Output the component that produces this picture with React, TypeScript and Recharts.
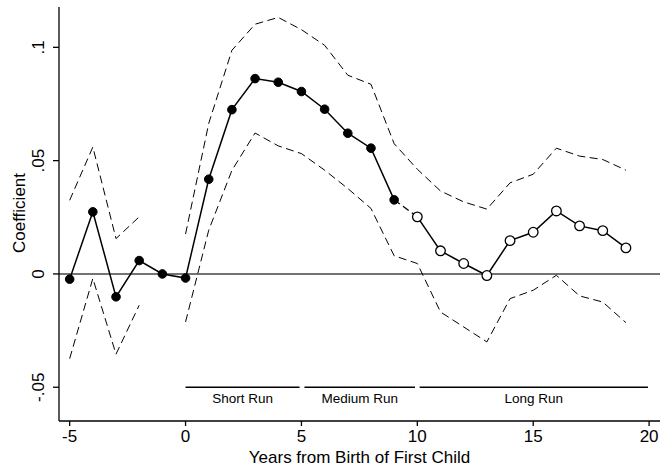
import {
  ComposedChart,
  Line,
  XAxis,
  YAxis,
  ReferenceLine,
  ReferenceArea,
  Label,
} from 'recharts'

const years = [-5, -4, -3, -2, -1, 0, 1, 2, 3, 4, 5, 6, 7, 8, 9, 10, 11, 12, 13, 14, 15, 16, 17, 18, 19]
const coef = [
  -0.0023, 0.0274, -0.0101, 0.0059, 0, -0.0018, 0.0418, 0.0725, 0.0862, 0.0846, 0.0805, 0.0727, 0.0621,
  0.0555, 0.0327, 0.0252, 0.0102, 0.0046, -0.0007, 0.0147, 0.0184, 0.0278, 0.0212, 0.0191, 0.0115,
]
const upper = [
  0.0325, 0.056, 0.0156, 0.0252, null, 0.0176, 0.0664, 0.0987, 0.1102, 0.1132, 0.1078, 0.1009, 0.0877,
  0.0837, 0.0575, 0.0462, 0.0366, 0.0318, 0.0286, 0.0402, 0.044, 0.0555, 0.052, 0.0505, 0.0458,
]
const lower = [
  -0.0374, -0.002, -0.0354, -0.0138, null, -0.0212, 0.0193, 0.0457, 0.0622, 0.0565, 0.0531, 0.0458, 0.0377,
  0.0289, 0.008, 0.0046, -0.0168, -0.0234, -0.03, -0.0109, -0.0072, -0.0006, -0.0097, -0.0124, -0.0215,
]
// last year drawn with filled markers
const lastFilledYear = 9

const xTicks = [-5, 0, 5, 10, 15, 20]
const yTicks = [-0.05, 0, 0.05, 0.1]

const periodNames = ['Short Run', 'Medium Run', 'Long Run']
const periodStart = [0, 5.13, 10.1]
const periodEnd = [4.92, 9.9, 19.95]
const periodLevel = -0.05

const data = years.map((t, i) => ({
  t,
  early: t <= lastFilledYear ? coef[i] : null,
  late: t > lastFilledYear ? coef[i] : null,
  bridge: t === lastFilledYear || t === lastFilledYear + 1 ? coef[i] : null,
  upper: upper[i],
  lower: lower[i],
}))

const fmtY = (v: number) => (v === 0 ? '0' : String(v).replace('0.', '.'))

const YTick = ({ x, y, payload }: any) => (
  <text
    transform={`translate(${x - 9.5},${y}) rotate(-90)`}
    textAnchor="middle"
    fontSize={17}
    fill="#000"
  >
    {fmtY(payload.value)}
  </text>
)

export default function App() {
  return (
    <div style={{ position: 'absolute', left: 0, top: 0, fontFamily: '"Liberation Sans", Arial, sans-serif' }}>
      <ComposedChart width={671} height={468} data={data} margin={{ top: 7, right: 11, bottom: 0, left: 0 }}>
        <XAxis
          type="number"
          dataKey="t"
          domain={[-5.46, 20.47]}
          ticks={xTicks}
          allowDataOverflow
          height={47}
          tickSize={5}
          tickMargin={4}
          tick={{ fontSize: 17, fill: '#000' }}
          stroke="#000"
          strokeWidth={1.3}
        >
          <Label value="Years from Birth of First Child" position="insideBottom" offset={5} fontSize={17} fill="#000" />
        </XAxis>
        <YAxis
          type="number"
          domain={[-0.0649, 0.1178]}
          ticks={yTicks}
          allowDataOverflow
          width={59}
          tickSize={6}
          tickMargin={0}
          tick={<YTick />}
          stroke="#000"
          strokeWidth={1.3}
        >
          <Label
            content={() => (
              <text transform="translate(25,213) rotate(-90)" textAnchor="middle" fontSize={17} fill="#000">
                Coefficient
              </text>
            )}
          />
        </YAxis>
        <ReferenceArea fill="none" fillOpacity={0} stroke="#000" strokeWidth={1.3} />
        <ReferenceLine y={0} stroke="#444" strokeWidth={1.6} />
        {periodNames.map((name, i) => (
          <ReferenceLine
            key={name}
            segment={[
              { x: periodStart[i], y: periodLevel },
              { x: periodEnd[i], y: periodLevel },
            ]}
            stroke="#000"
            strokeWidth={1.3}
          >
            <Label value={name} position="bottom" offset={6} fontSize={13.5} fill="#000" />
          </ReferenceLine>
        ))}
        <Line dataKey="upper" stroke="#000" strokeWidth={1} strokeDasharray="8 4.5" dot={false} activeDot={false} isAnimationActive={false} />
        <Line dataKey="lower" stroke="#000" strokeWidth={1} strokeDasharray="8 4.5" dot={false} activeDot={false} isAnimationActive={false} />
        <Line dataKey="bridge" stroke="#000" strokeWidth={1.3} strokeDasharray="7 4" dot={false} activeDot={false} isAnimationActive={false} />
        <Line
          dataKey="early"
          stroke="#000"
          strokeWidth={1.5}
          dot={{ r: 4.3, fill: '#000', stroke: '#000', strokeWidth: 1 }}
          activeDot={false}
          isAnimationActive={false}
        />
        <Line
          dataKey="late"
          stroke="#000"
          strokeWidth={1.5}
          dot={{ r: 4.8, fill: '#fff', stroke: '#000', strokeWidth: 1.3 }}
          activeDot={false}
          isAnimationActive={false}
        />
      </ComposedChart>
    </div>
  )
}
